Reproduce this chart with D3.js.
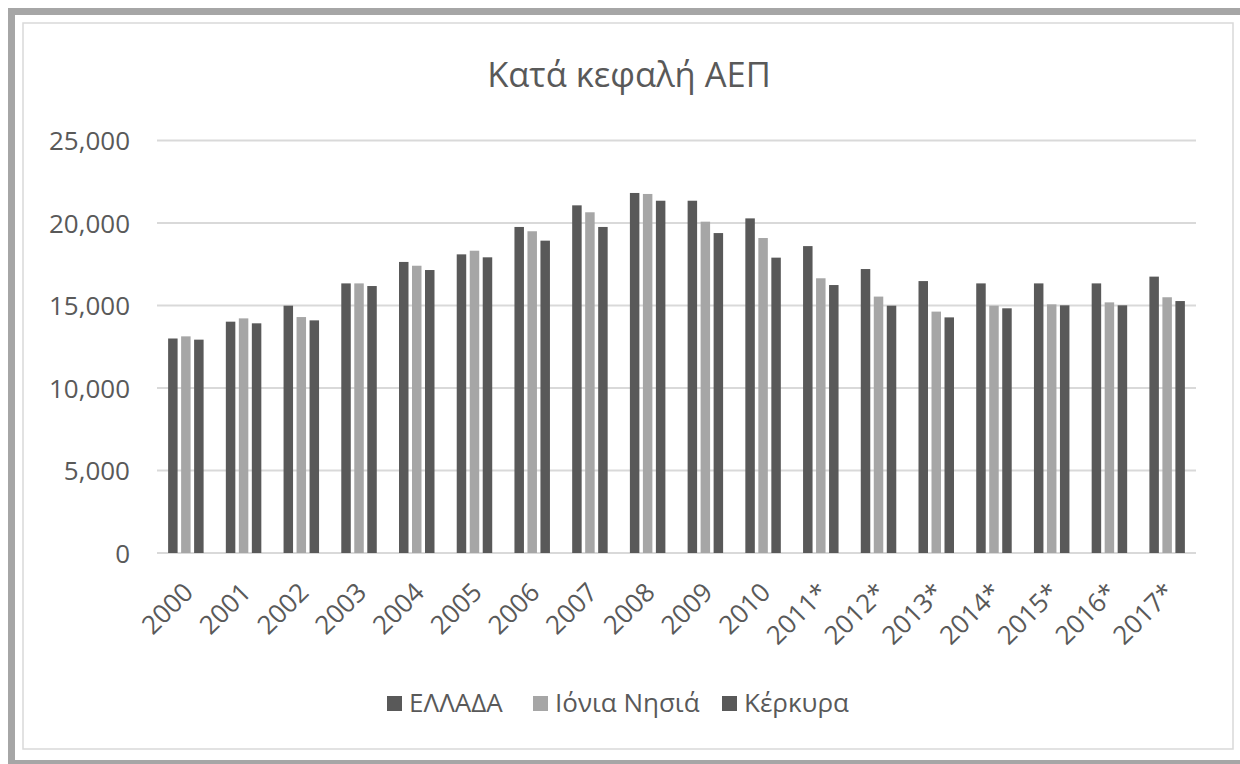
<!DOCTYPE html>
<html>
<head>
<meta charset="utf-8">
<script src="https://cdn.jsdelivr.net/npm/d3@7"></script>
<style>
  html, body { margin: 0; padding: 0; background: #fff; }
  svg { display: block; }
  text { font-family: "Open Sans", "Noto Sans", sans-serif; fill: #595959; }
</style>
</head>
<body>
<svg id="chart" width="1240" height="764"></svg>
<script>
const categories = ["2000","2001","2002","2003","2004","2005","2006","2007","2008","2009","2010","2011*","2012*","2013*","2014*","2015*","2016*","2017*"];
const seriesNames = ["ΕΛΛΑΔΑ", "Ιόνια Νησιά", "Κέρκυρα"];
const ellada  = [13000, 14020, 14990, 16340, 17640, 18100, 19760, 21070, 21820, 21350, 20280, 18600, 17210, 16480, 16340, 16340, 16340, 16750];
const ionia   = [13130, 14220, 14300, 16340, 17410, 18320, 19500, 20650, 21760, 20080, 19090, 16650, 15540, 14630, 14990, 15070, 15190, 15500];
const kerkyra = [12930, 13920, 14100, 16180, 17150, 17920, 18930, 19760, 21350, 19390, 17900, 16240, 14990, 14280, 14830, 15010, 15010, 15270];
const yTicks = [0, 5000, 10000, 15000, 20000, 25000];
const seriesColors = ["#595959", "#a6a6a6", "#595959"];
const chartTitle = "Κατά κεφαλή ΑΕΠ";

const seriesData = [ellada, ionia, kerkyra];
const svg = d3.select("#chart");

// outer frame
svg.append("rect").attr("x", 11.5).attr("y", 11.5).attr("width", 1260).attr("height", 752)
  .attr("fill", "none").attr("stroke", "#a6a6a6").attr("stroke-width", 7);
// inner chart-area border
svg.append("rect").attr("x", 23).attr("y", 23).attr("width", 1210).attr("height", 726)
  .attr("fill", "#fff").attr("stroke", "#d9d9d9").attr("stroke-width", 1.5);

const plotLeft = 157, plotRight = 1196, plotTop = 140.5, plotBottom = 553;
const x = d3.scaleBand().domain(categories).range([plotLeft, plotRight]).padding(0);
const xs = d3.scaleBand().domain(d3.range(seriesNames.length)).range([0, x.bandwidth()])
  .paddingInner(0.27).paddingOuter(0.855);
const y = d3.scaleLinear().domain([0, 25000]).range([plotBottom, plotTop]);

// title
svg.append("text").attr("x", 629).attr("y", 87).attr("text-anchor", "middle")
  .attr("font-size", 34.5).text(chartTitle);

// gridlines
svg.append("g").selectAll("line").data(yTicks).join("line")
  .attr("x1", plotLeft).attr("x2", plotRight)
  .attr("y1", d => y(d)).attr("y2", d => y(d))
  .attr("stroke", "#d9d9d9").attr("stroke-width", 2);

// y axis labels
const yAxis = d3.axisLeft(y).tickValues(yTicks).tickFormat(d3.format(",")).tickSize(0).tickPadding(0);
const gy = svg.append("g").attr("transform", `translate(130,0)`).call(yAxis);
gy.select(".domain").remove();
gy.selectAll("text").attr("font-size", 26).attr("dy", "0.35em").style("font-family", '"Open Sans", sans-serif').attr("fill", "#595959");

// bars
const groups = svg.append("g").selectAll("g").data(seriesData).join("g")
  .attr("fill", (d, i) => seriesColors[i]);
groups.each(function(vals, si) {
  d3.select(this).selectAll("rect").data(vals).join("rect")
    .attr("x", (v, ci) => x(categories[ci]) + xs(si))
    .attr("width", xs.bandwidth())
    .attr("y", v => y(v))
    .attr("height", v => y(0) - y(v));
});

// x axis labels
const xAxis = d3.axisBottom(x).tickSize(0).tickPadding(0);
const gx = svg.append("g").attr("transform", `translate(0,${plotBottom})`).call(xAxis);
gx.select(".domain").remove();
gx.selectAll("text")
  .attr("font-size", 26)
  .attr("text-anchor", "end")
  .attr("y", 0).attr("dy", 0)
  .attr("transform", "translate(9,41) rotate(-45)")
  .style("font-family", '"Open Sans", sans-serif').attr("fill", "#595959");

// legend
const legendItems = [
  {name: seriesNames[0], color: seriesColors[0], x: 387},
  {name: seriesNames[1], color: seriesColors[1], x: 533},
  {name: seriesNames[2], color: seriesColors[2], x: 722}
];
const lg = svg.append("g").selectAll("g").data(legendItems).join("g")
  .attr("transform", d => `translate(${d.x},696)`);
lg.append("rect").attr("width", 15).attr("height", 15).attr("fill", d => d.color);
lg.append("text").attr("x", 22).attr("y", 16).attr("font-size", 26).text(d => d.name);
</script>
</body>
</html>
